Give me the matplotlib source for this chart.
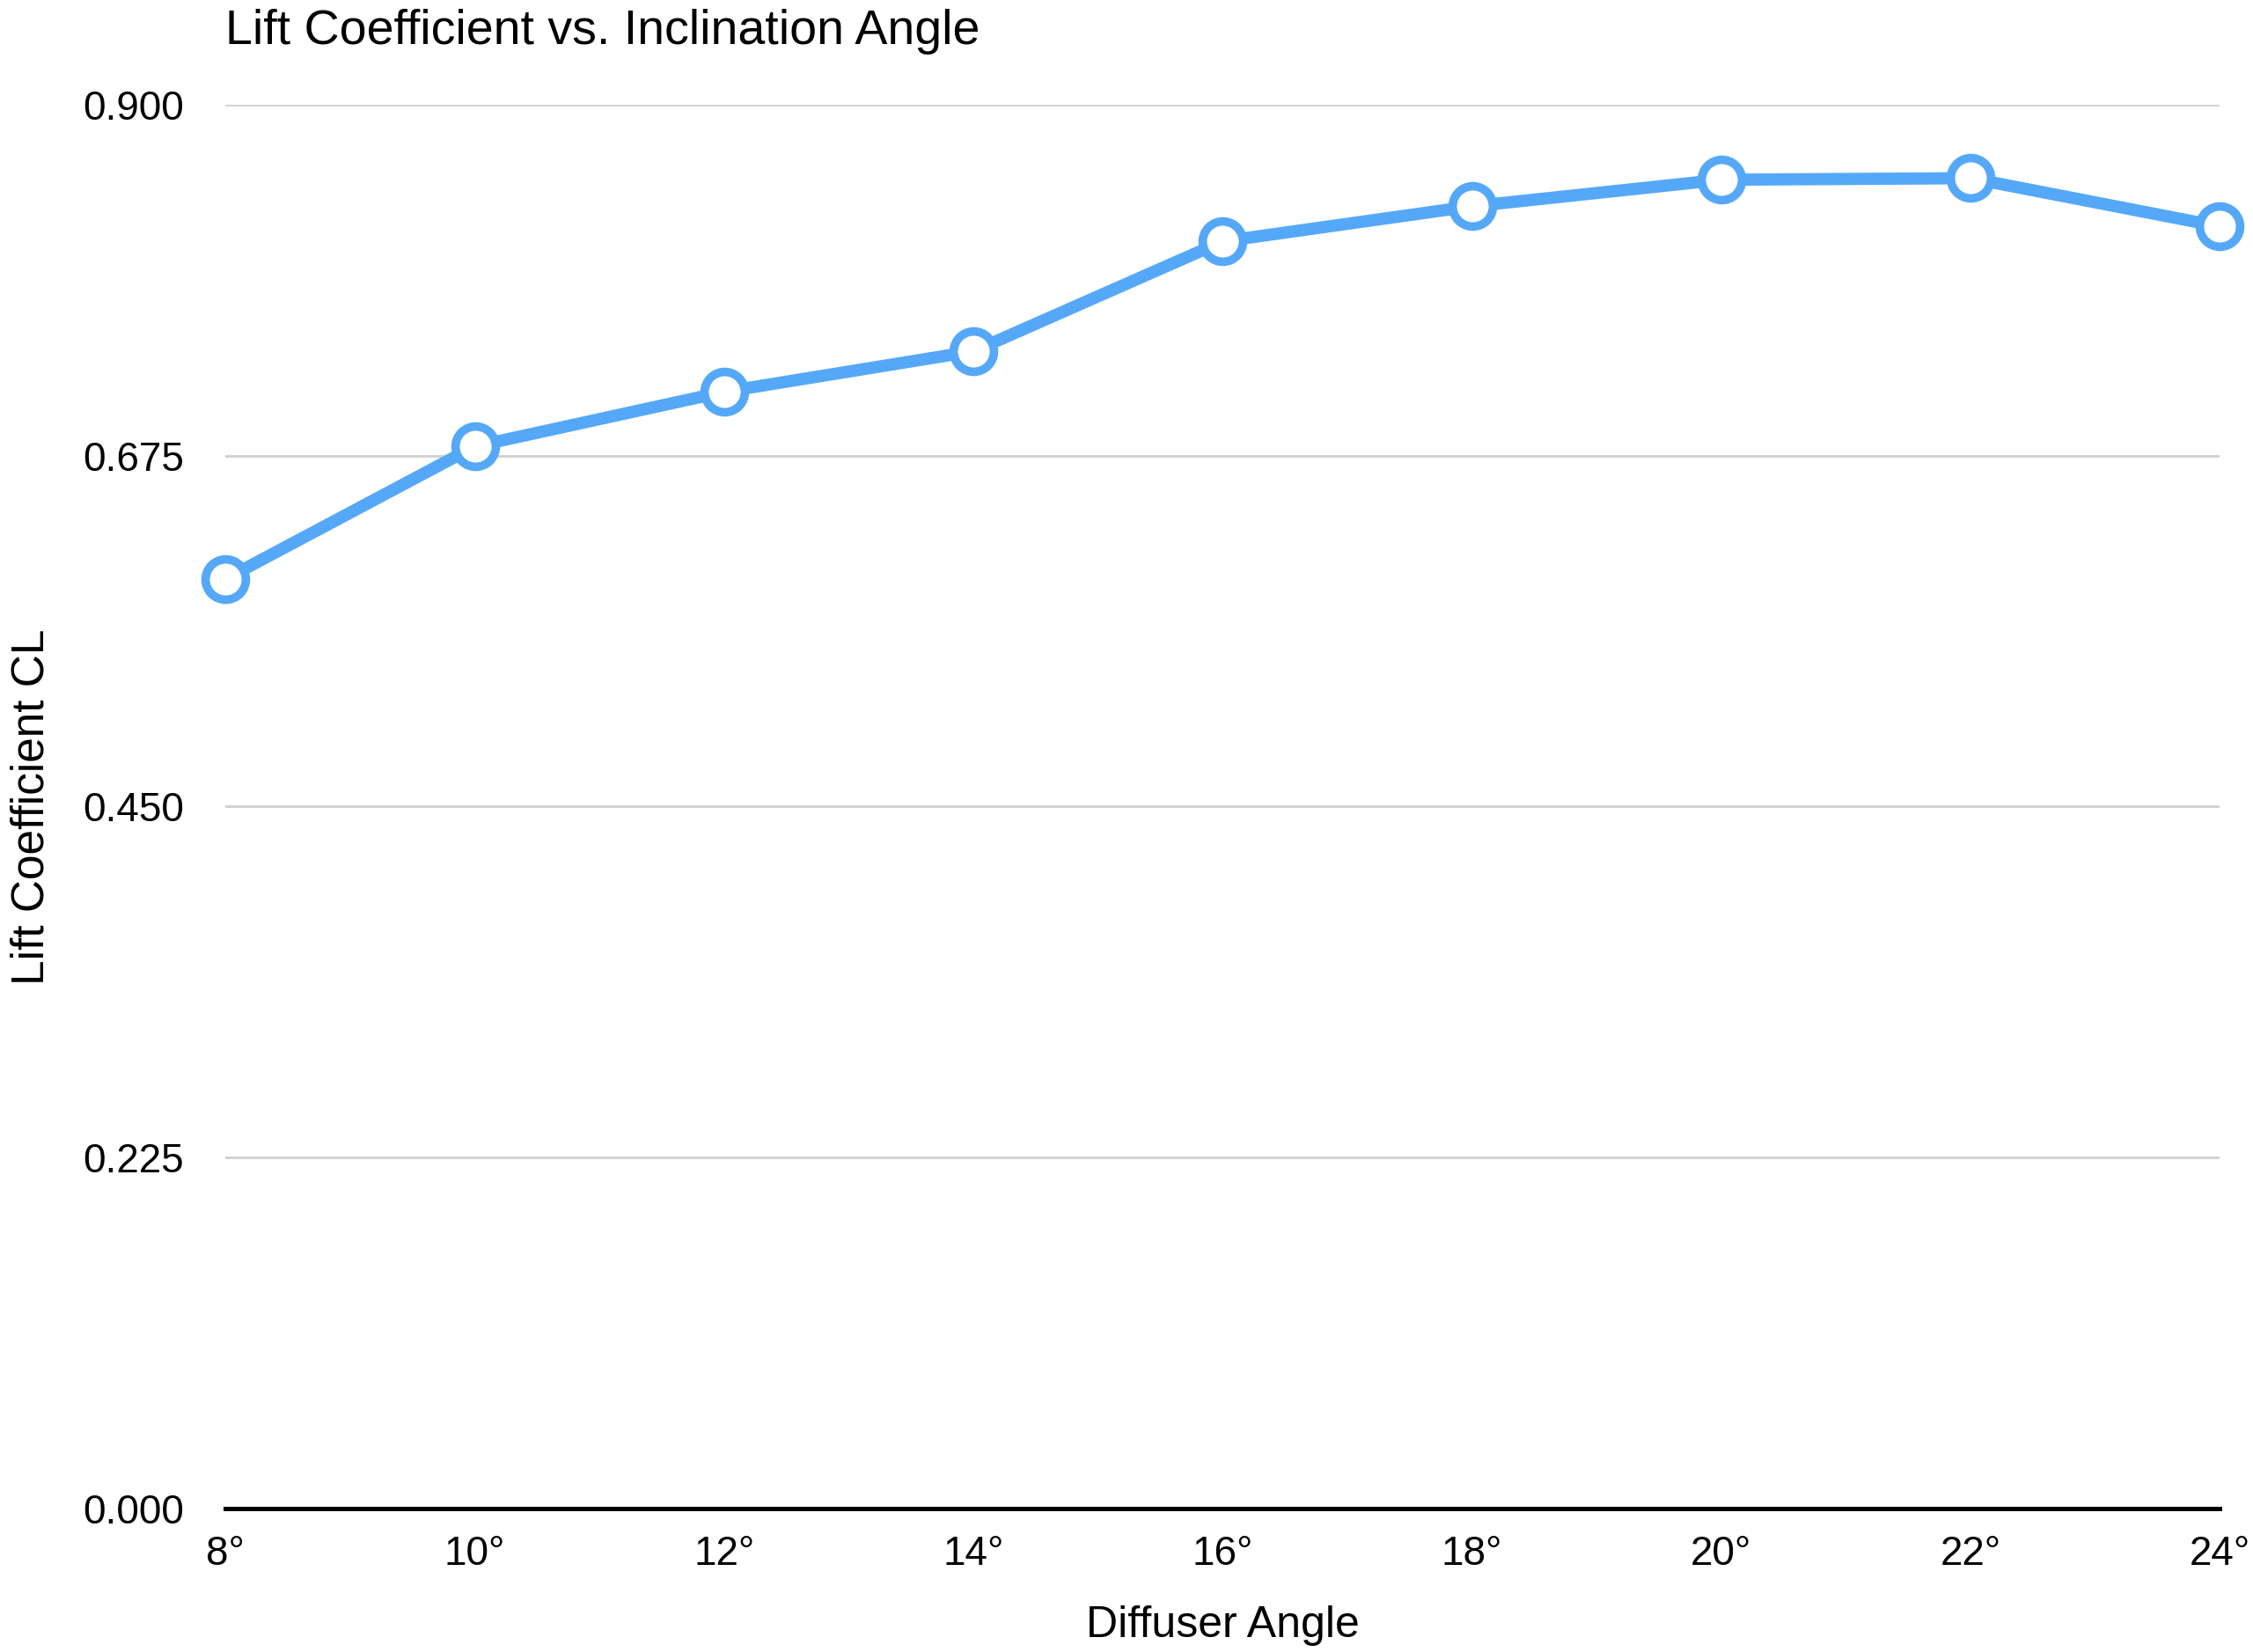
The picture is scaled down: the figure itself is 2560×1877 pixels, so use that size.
import matplotlib.pyplot as plt

plt.rcParams['font.family'] = ['Liberation Sans', 'DejaVu Sans']

# data
angles = [8, 10, 12, 14, 16, 18, 20, 22, 24]
lift_cl = [0.596, 0.681, 0.716, 0.742, 0.8125, 0.835, 0.852, 0.853, 0.822]
y_ticks = [0.0, 0.225, 0.45, 0.675, 0.9]

blue = '#55a8f8'

fig = plt.figure(figsize=(25.6, 18.77), dpi=100)
ax = fig.add_axes([0.1001, 0.087, 0.8852, 0.8495])

ax.plot(angles, lift_cl, color=blue, lw=10, marker='o', ms=33,
        mfc='white', mec=blue, mew=7, clip_on=False, zorder=5,
        solid_joinstyle='round')

ax.set_xlim(8, 24)
ax.set_ylim(0, 0.9)
ax.set_xticks(angles)
ax.set_xticklabels([f"{a}°" for a in angles])
ax.set_yticks(y_ticks)
ax.set_yticklabels([f"{v:.3f}" for v in y_ticks])

# horizontal gridlines (skip zero, the black baseline sits there)
for v in y_ticks[1:]:
    ax.axhline(v, color='#d0d0d0', lw=2, zorder=1)

for s in ['top', 'right', 'left']:
    ax.spines[s].set_visible(False)
ax.spines['bottom'].set_linewidth(3.6)
ax.spines['bottom'].set_color('black')
ax.spines['bottom'].set_zorder(6)

ax.tick_params(axis='both', length=0, labelsize=33)
ax.tick_params(axis='x', pad=22)
ax.tick_params(axis='y', pad=34)

ax.set_xlabel('Diffuser Angle', fontsize=36, labelpad=26)
ax.set_ylabel('Lift Coefficient CL', fontsize=37, labelpad=24)
ax.set_title('Lift Coefficient vs. Inclination Angle', loc='left',
             fontsize=40, pad=50)

fig.savefig('out.png', dpi=100, facecolor='white')
